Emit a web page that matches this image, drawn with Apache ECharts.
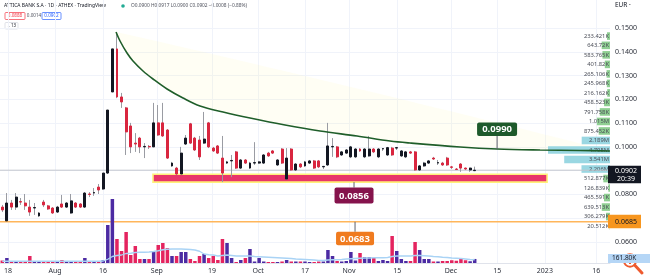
<!DOCTYPE html>
<html><head><meta charset="utf-8">
<script src="https://cdn.jsdelivr.net/npm/echarts@6/dist/echarts.min.js"></script>
<style>html,body{margin:0;padding:0;background:#fff;}#c{width:650px;height:280px;}</style>
</head><body><div id="c"></div>
<script>
// ---------- data ----------
const openP = [.0747,.0689,.0764,.0747,.0770,.0764,.0747,.0743,.0710,.0768,.0752,.0743,.0726,.0760,.0747,.0722,.0764,.0760,.0747,.0802,
.0806,.0831,.0823,.0890,.1231,.1412,.1210,.1164,.1088,.1016,.1037,.1000,.1002,.1000,.1101,.1101,.1071,.0920,.0911,.0886,
.1012,.1097,.1037,.1029,.1016,.1101,.0995,.1004,.0953,.0932,.0941,.0979,.0911,.0945,.0911,.0932,.0932,.0932,.0974,.0983,
.0924,.0991,.0865,.0991,.0903,.0928,.0920,.0932,.0941,.0941,.0916,.0924,.1000,.1000,.0966,.0974,.0958,.0958,.0991,.0958,
.0962,.0991,.0958,.0991,.0966,.0995,.0995,.0962,.0958,.0979,.0979,.0903,.0920,.0932,.0953,.0932,.0932,.0953,.0916,.0907,
.0928,.0911,.0903,.0900];
const closeP = [.0735,.0764,.0747,.0789,.0768,.0752,.0726,.0745,.0722,.0756,.0739,.0722,.0747,.0747,.0764,.0773,.0747,.0747,.0806,.0800,
.0808,.0819,.0890,.1155,.1412,.1210,.1189,.1063,.1000,.1012,.1000,.1002,.1000,.1101,.1050,.1046,.0953,.0932,.0886,.0974,
.1037,.1016,.0987,.0958,.1033,.1000,.0983,.0974,.0890,.0937,.0943,.0911,.0945,.0932,.0932,.0934,.0937,.0966,.0962,.0974,
.0945,.0932,.0953,.0903,.0928,.0916,.0937,.0941,.0911,.0916,.0918,.1004,.1002,.0958,.0979,.0987,.1000,.0991,.0983,.0991,
.0991,.0979,.0991,.0993,.0997,.0966,.0997,.0983,.0979,.0974,.0903,.0920,.0932,.0941,.0949,.0934,.0924,.0924,.0914,.0905,
.0911,.0907,.0911,.0902];
const lowP = [.0726,.0689,.0735,.0735,.0756,.0735,.0710,.0714,.0705,.0747,.0735,.0718,.0722,.0743,.0743,.0718,.0743,.0743,.0743,.0789,
.0794,.0802,.0819,.0886,.1231,.1205,.1164,.0966,.0974,.0979,.0974,.0953,.0991,.1000,.1046,.1042,.0949,.0916,.0882,.0886,
.1008,.1012,.0983,.0945,.1012,.0995,.0979,.0970,.0852,.0928,.0873,.0907,.0907,.0928,.0907,.0924,.0928,.0928,.0958,.0970,
.0920,.0928,.0861,.0899,.0899,.0911,.0916,.0928,.0907,.0911,.0907,.0920,.0958,.0953,.0962,.0970,.0953,.0953,.0979,.0953,
.0958,.0974,.0953,.0983,.0962,.0962,.0987,.0958,.0953,.0970,.0899,.0899,.0916,.0928,.0945,.0924,.0920,.0920,.0907,.0903,
.0895,.0903,.0895,.0900];
const highP = [.0756,.0806,.0777,.0806,.0785,.0802,.0777,.0764,.0726,.0777,.0756,.0747,.0752,.0798,.0768,.0802,.0768,.0764,.0810,.0810,
.0827,.0844,.0890,.1155,.1412,.1483,.1227,.1168,.1101,.1058,.1042,.1016,.1008,.1185,.1176,.1185,.1075,.0937,.0916,.1000,
.1050,.1101,.1042,.1046,.1147,.1105,.1000,.1008,.1046,.0941,.0966,.0983,.0949,.0949,.0937,.1020,.0941,.0970,.0979,.0987,
.0949,.0995,.0995,.0995,.0932,.0932,.0941,.0945,.0945,.0945,.0920,.1101,.1037,.1004,.0983,.0991,.1004,.0995,.0995,.0995,
.1046,.0995,.0995,.0995,.1000,.1000,.1000,.0987,.0983,.0983,.0983,.0924,.0937,.0945,.0958,.0945,.0937,.0958,.0920,.0911,
.0932,.0913,.0913,.0917];
// daily volume, thousands of shares
const volumeK = [100,200,80,40,80,40,280,40,40,60,40,60,40,120,40,40,40,40,200,40,
40,40,120,1520,2560,960,480,1240,320,680,160,160,160,480,720,800,600,280,280,440,
440,160,80,280,360,200,280,120,960,800,200,40,120,200,560,60,200,60,40,40,
40,60,120,60,60,60,60,40,40,60,60,520,280,80,60,80,440,100,400,240,
240,200,80,120,80,1080,480,160,80,80,840,520,160,160,60,60,80,80,110,90,
200,110,70,161.8];
// volume moving average, thousands
const volumeMA = [70,70,70,70,70,70,70,70,70,70,70,70,70,70,70,70,70,70,70,70,
70,70,80,150,260,300,320,380,390,420,430,430,440,460,490,530,550,560,560,560,
550,540,520,470,360,330,320,280,300,320,300,280,280,280,280,260,250,240,230,220,
210,200,190,180,160,150,140,130,120,100,100,120,130,130,140,160,170,180,190,200,
200,210,210,210,220,260,280,280,280,280,300,300,290,280,260,250,230,220,200,190,
180,160,140,130];
const tickPos = [1.25,11.5,21.96,33.7,45.7,55.8,66.0,75.6,86.1,97.8,107.9,118.3,129.5];
const tickLabels = ['18','Aug','16','Sep','19','Oct','17','Nov','15','Dec','15','2023','16'];
const priceTicks = [0.06,0.07,0.08,0.09,0.10,0.11,0.12,0.13,0.14,0.15];
// arc drawing (bar index, price)
const curveX = [24.80,25.67,27.19,28.50,30.68,32.86,35.92,39.40,43.11,48.13,54.02,61.65,69.28,77.35,84.54,88.90,99.81,107.88,117.25,125.97,132.5];
const curveP = [.14832,.14453,.13948,.13612,.13192,.12855,.12435,.12056,.11720,.11468,.11215,.10921,.10669,.10458,.10248,.10164,.09996,.09912,.09870,.09849,.09828];
// support zone rectangle
const zoneX = [32.86,118.78];
const zoneP = [0.0852,0.0885];
// price label drawings
const tagX = [107.88,76.69,76.91];
const tagP = [0.0991,0.0852,0.0685];
const tagText = ['0.0990','0.0856','0.0683'];
// horizontal levels
const lastPrice = 0.0902;
const orangeLevel = 0.0685;
const lastVolumeK = 161.8;
// visible range volume profile
const profileP = [.1466,.1427,.1387,.1347,.1307,.1267,.1227,.1187,.1147,.1107,.1067,.1027,.0987,.0947,.0907,.0867,.0827,.0787,.0747,.0707,.0668];
const profileVolK = [233.421,643.72,583.765,401.82,265.106,245.968,216.162,458.523,791.758,1015,875.452,2189,4795,3541,2206,512.877,126.839,465.591,639.513,306.279,20.512];
const profileInVA = [0,0,0,0,0,0,0,0,0,0,0,1,1,1,1,0,0,0,0,0,0];

// ---------- chart ----------
const N = 133;
const cats = Array.from({length:N},(_,i)=>i);
const FONT = "'Noto Sans', sans-serif";
const UP = '#131722', DOWN = '#d9263f', WICK = '#9a9ca3';
const wickData = openP.map((o,i)=>[o,closeP[i],lowP[i],highP[i]]);
const bodyData = openP.map((o,i)=>[o,closeP[i],Math.min(o,closeP[i]),Math.max(o,closeP[i])]);
const volData = volumeK.map((v,i)=>({value:v,itemStyle:{color: closeP[i]>=openP[i] ? '#4c2ba3' : '#e4245f'}}));
function fmtVol(v){ return v>=1000 ? (Number((v/1000).toFixed(3))+'M') : (Number(v.toFixed(3))+'K'); }

const tagGeom = [
  {bg:'#1e5a2b', w:40, h:13.5, dir:-1, gap:13},
  {bg:'#85134c', w:39, h:16, dir:1, gap:5.5},
  {bg:'#f07b1f', w:38, h:13.5, dir:1, gap:10}
];

const chart = echarts.init(document.getElementById('c'), null, {renderer:'canvas'});
chart.setOption({
  animation:false,
  backgroundColor:'#ffffff',
  grid:{left:0, right:40, top:0, bottom:17},
  xAxis:[
    {type:'category', data:cats, boundaryGap:true, show:false},
    {type:'value', min:-0.5, max:132.5, position:'bottom',
      axisLine:{show:true, lineStyle:{color:'#e0e3eb'}},
      axisTick:{show:false, customValues:tickPos},
      axisLabel:{customValues:tickPos, color:'#2b2f3a', fontSize:7, fontFamily:FONT, margin:4,
        formatter:function(v){ let b=0; for(let i=0;i<tickPos.length;i++){ if(Math.abs(tickPos[i]-v)<Math.abs(tickPos[b]-v)) b=i; } return tickLabels[b]; }},
      splitLine:{show:true, lineStyle:{color:'#f0f3fa', width:1}}},
    {type:'value', min:0, max:47177, inverse:true, show:false}
  ],
  yAxis:[
    {type:'value', position:'right', min:0.05118, max:0.16177,
      axisLine:{show:false}, axisTick:{show:false, customValues:priceTicks},
      axisLabel:{customValues:priceTicks, color:'#2b2f3a', fontSize:7, fontFamily:FONT, margin:5,
        formatter:function(v){ return v.toFixed(4); }},
      splitLine:{show:true, lineStyle:{color:'#f0f3fa', width:1}}},
    {type:'value', min:0, max:10520, show:false}
  ],
  graphic:[
    {type:'text', x:4, y:6, style:{text:'ATTICA BANK S.A · 1D · ATHEX · TradingView', fill:'#131722', font:'5px '+FONT, verticalAlign:'middle'}},
    {type:'circle', shape:{cx:123, cy:6, r:1.8}, style:{fill:'#22ab94'}},
    {type:'text', x:131, y:6, style:{text:'O0.0900 H0.0917 L0.0900 C0.0902 −0.0008 (−0.88%)', fill:'#50535e', font:'4.8px '+FONT, verticalAlign:'middle'}},
    {type:'rect', shape:{x:5, y:12.5, width:20, height:7, r:1}, style:{fill:'#fff', stroke:'#f23645', lineWidth:0.7}},
    {type:'text', x:15, y:16, style:{text:'0.0888', fill:'#f23645', font:'4.6px '+FONT, align:'center', verticalAlign:'middle'}},
    {type:'text', x:34, y:16, style:{text:'0.0014', fill:'#50535e', font:'4.6px '+FONT, align:'center', verticalAlign:'middle'}},
    {type:'rect', shape:{x:42, y:12.5, width:19, height:7, r:1}, style:{fill:'#fff', stroke:'#2962ff', lineWidth:0.7}},
    {type:'text', x:51.5, y:16, style:{text:'0.0902', fill:'#2962ff', font:'4.6px '+FONT, align:'center', verticalAlign:'middle'}},
    {type:'rect', shape:{x:5, y:22.5, width:13, height:6.5, r:1}, style:{fill:'#fff', stroke:'#d1d4dc', lineWidth:0.7}},
    {type:'text', x:11.5, y:25.8, style:{text:'⌄ 13', fill:'#131722', font:'4.4px '+FONT, align:'center', verticalAlign:'middle'}},
    {type:'text', x:615, y:5.5, style:{text:'EUR ·', fill:'#131722', font:'6.5px '+FONT, verticalAlign:'middle'}},
    {type:'group', z:100, children:[
      {type:'circle', shape:{cx:630, cy:260.5, r:6.2}, style:{fill:'rgba(255,255,255,0.35)', stroke:'#ee5a2f', lineWidth:2}},
      {type:'line', shape:{x1:634.8, y1:265.3, x2:642, y2:273}, style:{stroke:'#ee5a2f', lineWidth:3, lineCap:'round'}},
      {type:'line', shape:{x1:626.5, y1:260.5, x2:633.5, y2:260.5}, style:{stroke:'#ee5a2f', lineWidth:2}},
      {type:'line', shape:{x1:630, y1:257, x2:630, y2:264}, style:{stroke:'#ee5a2f', lineWidth:2}}
    ]}
  ],
  series:[
    // arc fill
    {type:'custom', xAxisIndex:1, yAxisIndex:0, z:1, silent:true, data:[[0,0]],
      renderItem:function(params, api){
        const pts = curveX.map((x,i)=>api.coord([x,curveP[i]]));
        return {type:'polygon', shape:{points:pts, smooth:0.3}, style:{fill:'rgba(255,236,120,0.08)'}};
      }},
    // zone rectangle
    {type:'custom', xAxisIndex:1, yAxisIndex:0, z:1, silent:true, data:[[zoneX[0],zoneP[1],zoneX[1],zoneP[0]]],
      renderItem:function(params, api){
        const a = api.coord([api.value(0), api.value(1)]);
        const b = api.coord([api.value(2), api.value(3)]);
        return {type:'rect', shape:{x:a[0], y:a[1], width:b[0]-a[0], height:b[1]-a[1]},
          style:{fill:'#e8356a', stroke:'#fff07a', lineWidth:1.6}};
      }},
    // volume profile
    {type:'custom', xAxisIndex:2, yAxisIndex:0, z:1, silent:true, clip:false,
      data:profileP.map((p,i)=>[profileVolK[i], p, i]),
      renderItem:function(params, api){
        const i = api.value(2);
        const r = api.coord([0, api.value(1)]);
        const l = api.coord([api.value(0), api.value(1)]);
        const h = Math.abs(api.size([0, 0.0032])[1]);
        return {type:'group', children:[
          {type:'rect', shape:{x:l[0], y:r[1]-h/2, width:r[0]-l[0], height:h},
            style:{fill: profileInVA[i] ? '#9ad7e2' : '#8fcf92'}},
          {type:'text', x:r[0]-1, y:r[1], style:{text:fmtVol(api.value(0)), fill:'#4a4d57', fontSize:5.8, fontFamily:FONT, align:'right', verticalAlign:'middle'}}
        ]};
      }},
    // volume bars
    {type:'bar', xAxisIndex:0, yAxisIndex:1, data:volData, barWidth:3.5, z:2, silent:true},
    {type:'line', xAxisIndex:0, yAxisIndex:1, data:volumeMA, symbol:'none', z:3, silent:true,
      lineStyle:{color:'#a9d3f5', width:1.3}},
    // level lines
    {type:'custom', xAxisIndex:1, yAxisIndex:0, z:2, silent:true, clip:false,
      data:[[132.5, lastPrice, 0],[132.5, orangeLevel, 1]],
      renderItem:function(params, api){
        const k = api.value(2);
        const pt = api.coord([api.value(0), api.value(1)]);
        const x0 = params.coordSys.x;
        return {type:'line', shape:{x1:x0, y1:pt[1], x2:pt[0], y2:pt[1]},
          style: k===0 ? {stroke:'#c3c6ce', lineWidth:1} : {stroke:'#ffb65a', lineWidth:1.6}};
      }},
    // wicks
    {type:'candlestick', xAxisIndex:0, yAxisIndex:0, data:wickData, barWidth:1, z:4, silent:true,
      itemStyle:{color:WICK, color0:WICK, borderColor:WICK, borderColor0:WICK, borderWidth:1}},
    // bodies
    {type:'candlestick', xAxisIndex:0, yAxisIndex:0, data:bodyData, barWidth:2.4, z:5, silent:true,
      itemStyle:{color:UP, color0:DOWN, borderColor:UP, borderColor0:DOWN, borderWidth:1}},
    // arc line
    {type:'line', xAxisIndex:1, yAxisIndex:0, data:curveX.map((x,i)=>[x,curveP[i]]), smooth:0.35,
      symbol:'none', z:6, silent:true, lineStyle:{color:'#1f5e2a', width:1.6}},
    // price label drawings
    {type:'custom', xAxisIndex:1, yAxisIndex:0, z:10, silent:true, clip:false,
      data:tagX.map((x,i)=>[x, tagP[i], i]),
      renderItem:function(params, api){
        const i = api.value(2), g = tagGeom[i];
        const pt = api.coord([api.value(0), api.value(1)]);
        const edge = pt[1] + g.dir*g.gap;
        const top = g.dir>0 ? edge : edge - g.h;
        return {type:'group', children:[
          {type:'line', shape:{x1:pt[0], y1:pt[1], x2:pt[0], y2:edge}, style:{stroke:'#5d606b', lineWidth:1}},
          {type:'rect', shape:{x:pt[0]-g.w/2, y:top, width:g.w, height:g.h, r:2}, style:{fill:g.bg}},
          {type:'text', x:pt[0], y:top+g.h/2+0.5, style:{text:tagText[i], fill:'#ffffff', fontSize:9.5, fontWeight:'bold', fontFamily:FONT, align:'center', verticalAlign:'middle'}}
        ]};
      }},
    // right-axis price tags
    {type:'custom', xAxisIndex:1, yAxisIndex:0, z:20, silent:true, clip:false,
      data:[[132.5, lastPrice, 0],[132.5, orangeLevel, 1]],
      renderItem:function(params, api){
        const k = api.value(2);
        const pt = api.coord([api.value(0), api.value(1)]);
        if(k===0){
          return {type:'group', children:[
            {type:'rect', shape:{x:pt[0]-2, y:pt[1]-4.5, width:33, height:17.5}, style:{fill:'#131722'}},
            {type:'text', x:pt[0]+5, y:pt[1]+0.3, style:{text:lastPrice.toFixed(4), fill:'#fff', fontSize:7, fontFamily:FONT, verticalAlign:'middle'}},
            {type:'text', x:pt[0]+7, y:pt[1]+8.6, style:{text:'20:39', fill:'#fff', fontSize:7, fontFamily:FONT, verticalAlign:'middle'}}
          ]};
        }
        return {type:'group', children:[
          {type:'rect', shape:{x:pt[0]-2, y:pt[1]-7, width:33, height:13.5}, style:{fill:'#f7961f'}},
          {type:'text', x:pt[0]+5, y:pt[1]+0.2, style:{text:orangeLevel.toFixed(4), fill:'#131722', fontSize:7, fontFamily:FONT, verticalAlign:'middle'}}
        ]};
      }},
    // volume axis tag
    {type:'custom', xAxisIndex:0, yAxisIndex:1, z:20, silent:true, clip:false,
      data:[[132, lastVolumeK]],
      renderItem:function(params, api){
        const pt = api.coord([api.value(0), api.value(1)]);
        const x = params.coordSys.x + params.coordSys.width;
        return {type:'group', children:[
          {type:'rect', shape:{x:x-2, y:pt[1]-5, width:42, height:9}, style:{fill:'#b5d6f6'}},
          {type:'text', x:x+2, y:pt[1]-0.5, style:{text:fmtVol(lastVolumeK).replace('161.8K','161.80K'), fill:'#131722', fontSize:6.5, fontFamily:FONT, verticalAlign:'middle'}}
        ]};
      }}
  ]
});
</script>
</body></html>
